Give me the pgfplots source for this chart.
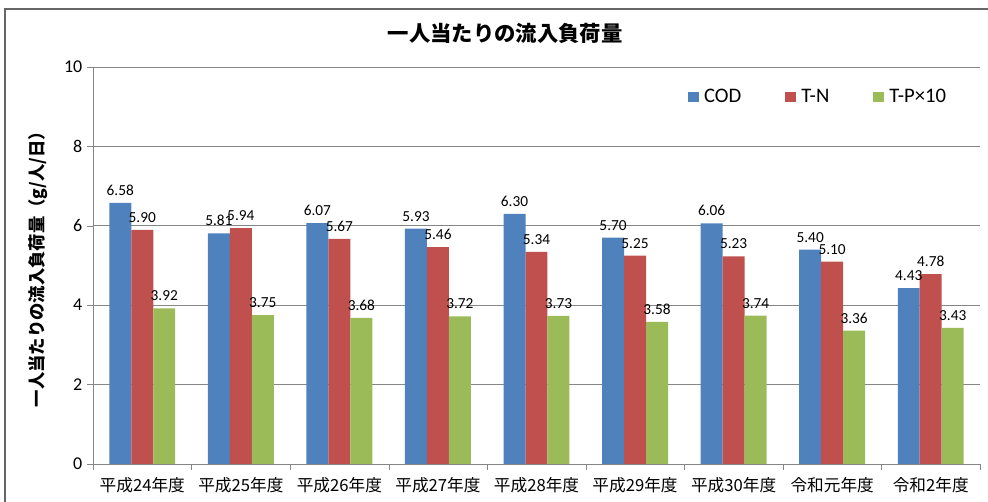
\documentclass[border=0pt]{standalone}
\usepackage{fontspec}
\setmainfont{Carlito}
\newfontfamily\jp{Noto Sans CJK JP}
\usepackage{pgfplots}
\pgfplotsset{compat=1.18}
\definecolor{cod}{HTML}{4F81BD}
\definecolor{tn}{HTML}{C0504D}
\definecolor{tp}{HTML}{9BBB59}
\definecolor{gridc}{RGB}{134,134,134}
\begin{document}
\begin{tikzpicture}
\useasboundingbox (0,0) rectangle (741pt,376.5pt);
\draw[draw=black!60, line width=1.2pt] (3.75pt,0) -- (3.75pt,369.75pt) -- (741pt,369.75pt);
\node[font=\jp\bfseries\fontsize{16}{18}\selectfont] at (378.75pt,351.75pt) {一人当たりの流入負荷量};
\node[rotate=90, font=\jp\bfseries\fontsize{13}{15}\selectfont] at (28.5pt,177.75pt) {一人当たりの流入負荷量（g/人/日）};
\begin{axis}[
    at={(69.75pt,28.5pt)}, anchor=south west,
    scale only axis, width=665.25pt, height=297.75pt,
    ybar=0pt, bar width=0.223,
    xmin=-0.5, xmax=8.5, ymin=0, ymax=10,
    ytick={0,2,4,6,8,10},
    xtick={0,1,2,3,4,5,6,7,8},
    xticklabels={平成24年度,平成25年度,平成26年度,平成27年度,平成28年度,平成29年度,平成30年度,令和元年度,令和2年度},
    minor xtick={-0.5,0.5,1.5,2.5,3.5,4.5,5.5,6.5,7.5,8.5},
    major x tick style={draw=none},
    minor x tick style={draw=gridc},
    major y tick style={draw=gridc},
    tick align=outside, major tick length=4.5pt, minor tick length=4.5pt,
    axis x line*=bottom, axis y line*=left,
    axis line style={draw=gridc},
    ymajorgrids, grid style={draw=gridc, line width=0.6pt},
    /pgf/number format/assume math mode=true,
    yticklabel style={font=\fontsize{13.5}{15}\selectfont},
    xticklabel style={font=\jp\fontsize{12.5}{15}\selectfont, yshift=-2pt},
    nodes near coords={\pgfmathprintnumber[fixed,fixed zerofill,precision=2]{\pgfplotspointmeta}},
    nodes near coords style={font=\fontsize{11.5}{12}\selectfont, black, yshift=2pt},
    legend columns=3,
    legend style={draw=none, fill=none, at={(0.666,0.924)}, anchor=west,
      font=\fontsize{15.5}{17}\selectfont,
      /tikz/every odd column/.append style={column sep=2pt},
      /tikz/every even column/.append style={column sep=31pt}},
    legend image code/.code={\fill[#1] (0pt,-4pt) rectangle (8pt,4pt);},
  ]
  \addplot[fill=cod, draw=none] coordinates {(0,6.58) (1,5.81) (2,6.07) (3,5.93) (4,6.30) (5,5.70) (6,6.06) (7,5.40) (8,4.43)};
  \addplot[fill=tn, draw=none] coordinates {(0,5.90) (1,5.94) (2,5.67) (3,5.46) (4,5.34) (5,5.25) (6,5.23) (7,5.10) (8,4.78)};
  \addplot[fill=tp, draw=none] coordinates {(0,3.92) (1,3.75) (2,3.68) (3,3.72) (4,3.73) (5,3.58) (6,3.74) (7,3.36) (8,3.43)};
  \legend{COD,T-N,T-P×10}
\end{axis}
\end{tikzpicture}
\end{document}
